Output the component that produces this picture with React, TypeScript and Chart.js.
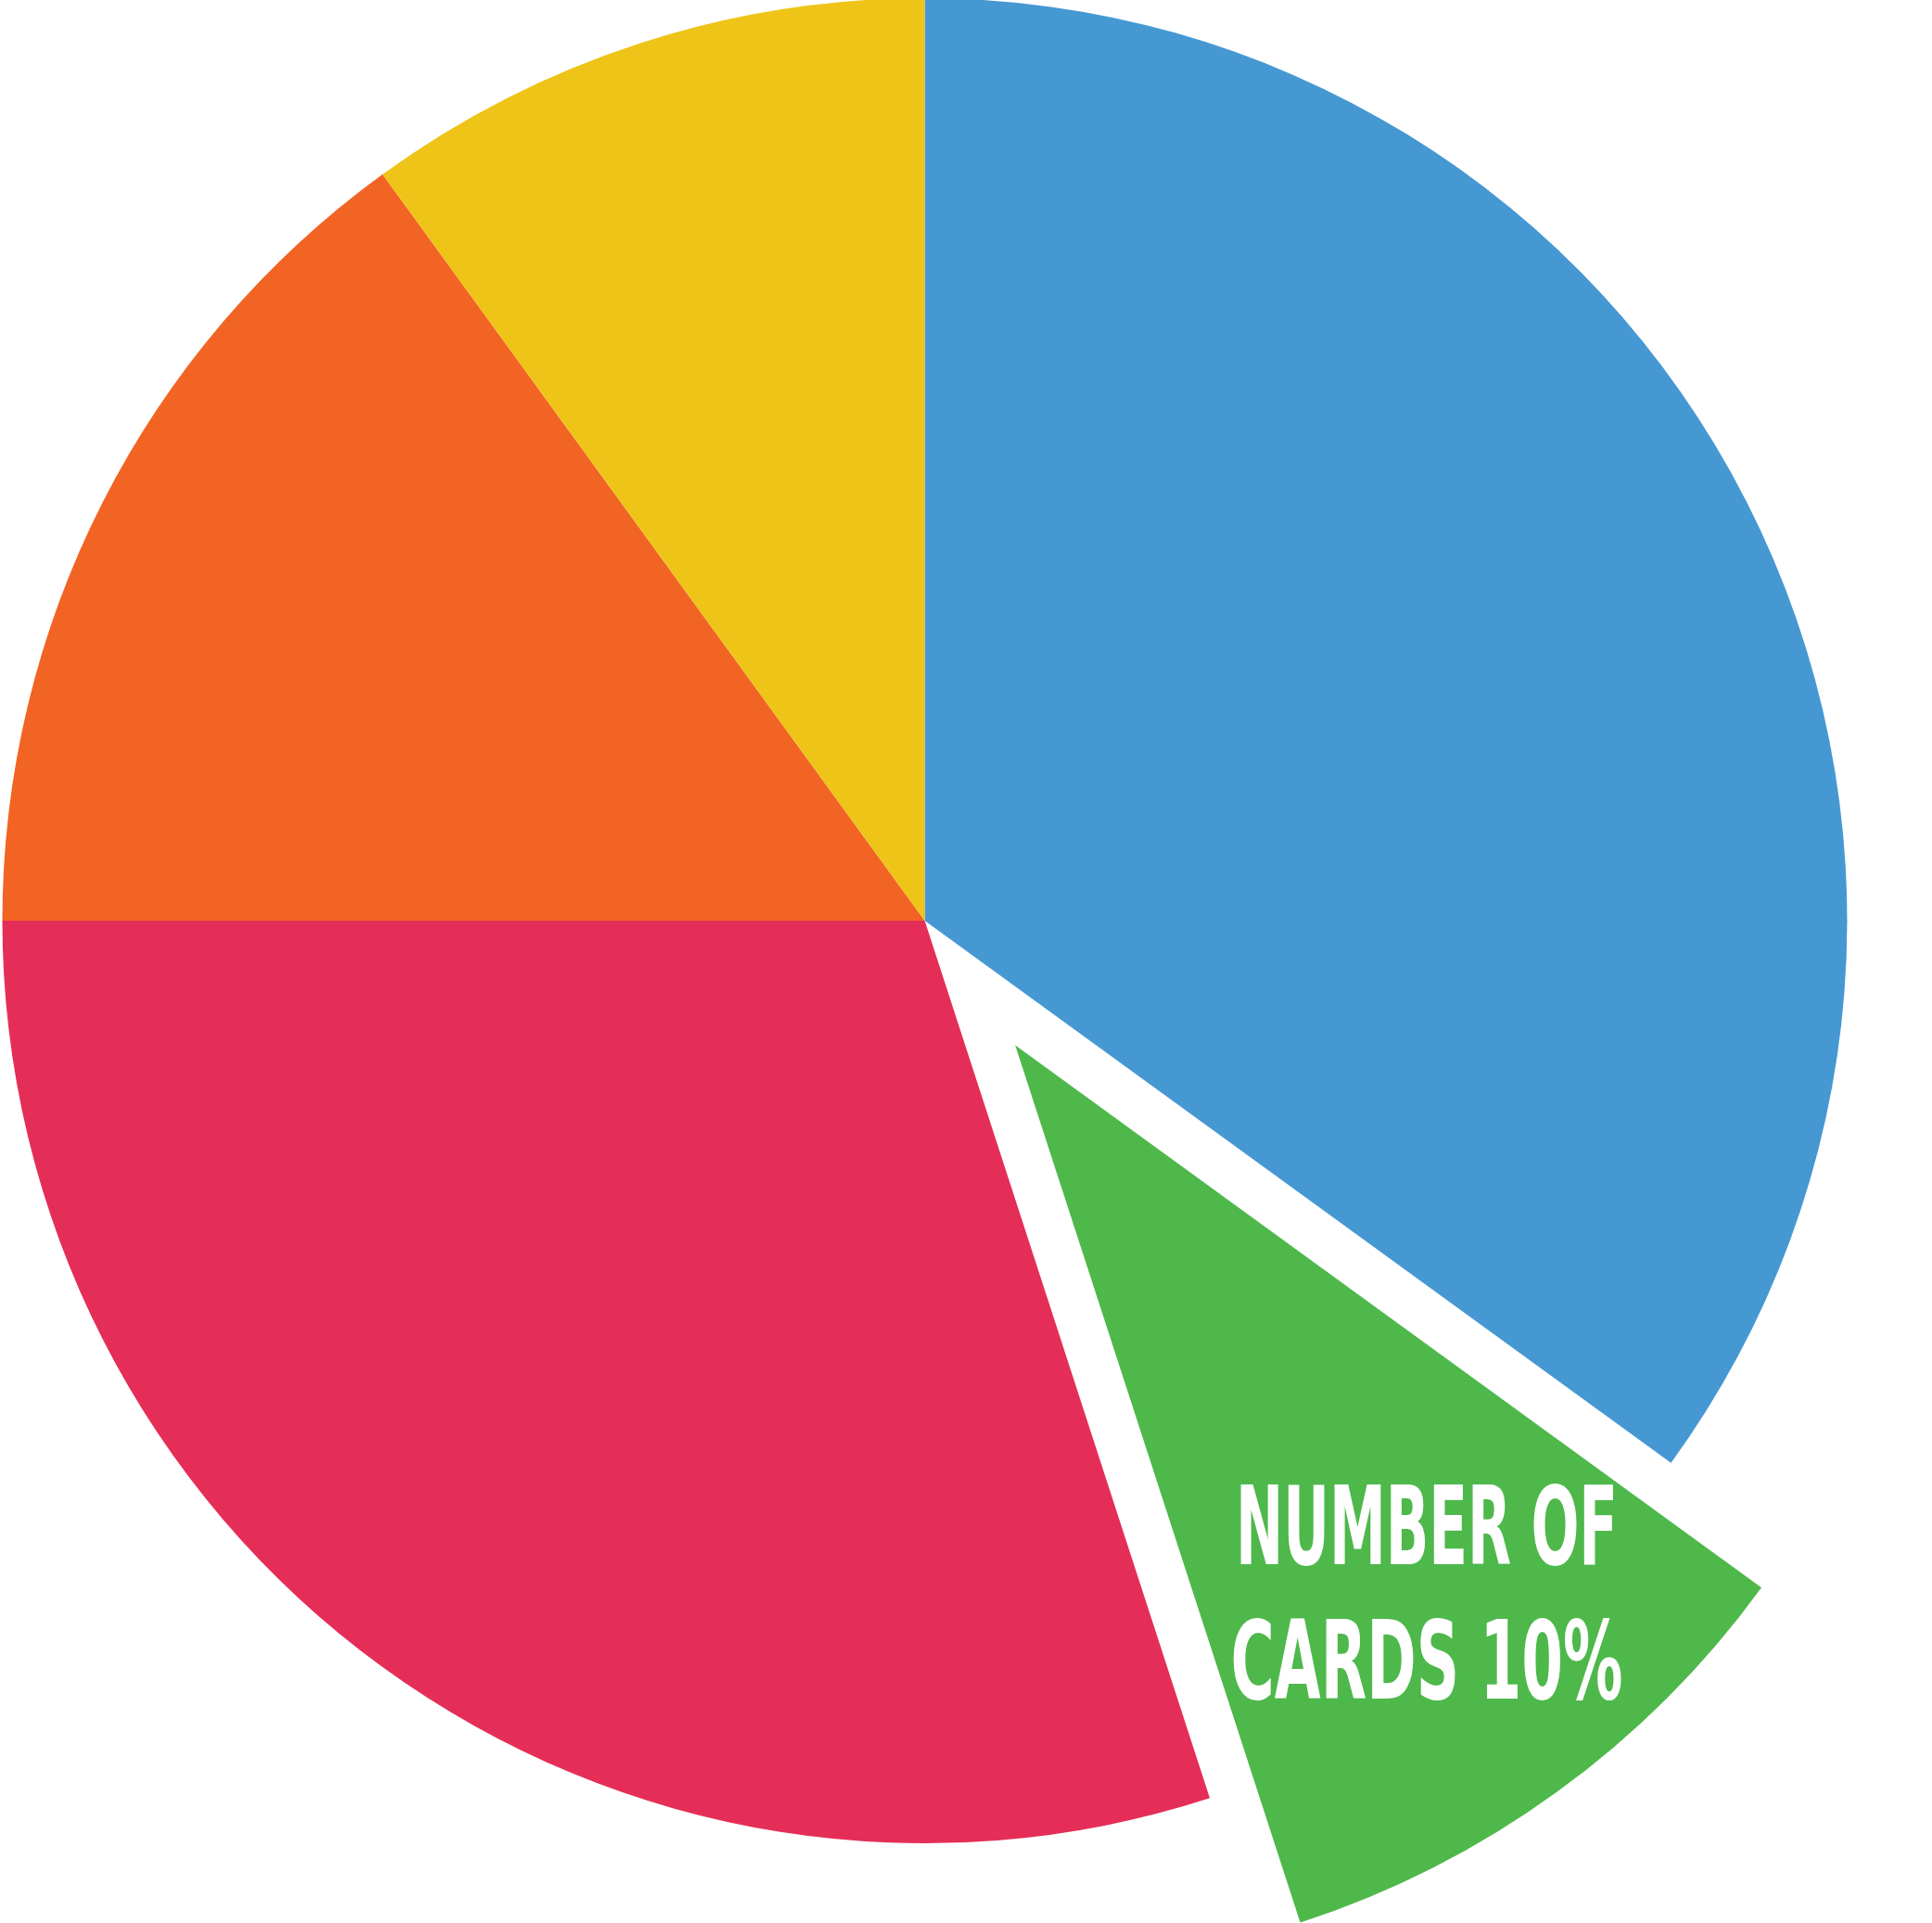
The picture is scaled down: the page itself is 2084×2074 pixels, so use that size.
import React, { useEffect, useRef } from 'react';
import { Chart, registerables } from 'chart.js';

Chart.register(...registerables);

// ---- data ----
const categories = ['Category A', 'Number of cards', 'Category C', 'Category D', 'Category E'];
const values = [35, 10, 30, 15, 10];
const colors = ['#4698D3', '#4EB84B', '#E52E57', '#F26424', '#EEC418'];
const offsets = [0, 664, 0, 0, 0];
const labelIndex = 1;
const labelLines = ['NUMBER OF', 'CARDS 10%'];

// ---- layout/style constants ----
const W = 2084;
const H = 2074;
const RADIUS = 995;
const AREA_W = 1995;
const AREA_H = 1986;
const LABEL_FONT = 'bold 117px "Liberation Sans Narrow", "DejaVu Sans Condensed", "Liberation Sans", sans-serif';
const LABEL_WIDTHS = [412, 423];
const LABEL_BASELINE_SHIFT = [-30, 115];

// Keep exploded slices at the same radius and angular width as the rest
// (Chart.js enlarges and narrows offset arcs slightly).
const offsetFix = {
  id: 'offsetFix',
  afterDatasetsUpdate(chart: any) {
    const meta = chart.getDatasetMeta(0);
    meta.data.forEach((arc: any, i: number) => {
      const off = (offsets[i] || 0) / 4;
      if (!off) return;
      const circ = arc.circumference;
      const fix = 1 - Math.sin(Math.min(Math.PI, circ));
      const ro = off * fix;
      arc.outerRadius = RADIUS - ro;
      const d = ro / (2 * Math.PI * RADIUS);
      arc.startAngle = arc.startAngle - d;
      arc.endAngle = arc.endAngle + d;
    });
  },
};

const sliceLabel = {
  id: 'sliceLabel',
  afterDatasetsDraw(chart: any) {
    const meta = chart.getDatasetMeta(0);
    const arc = meta.data[labelIndex];
    if (!arc) return;
    const ctx = chart.ctx;
    const mid = (arc.startAngle + arc.endAngle) / 2;
    const shift = offsets[labelIndex] / 4;
    const ang = mid - 0.017;
    const r = 0.742 * RADIUS;
    const cx = arc.x + Math.cos(mid) * shift + Math.cos(ang) * r;
    const cy = arc.y + Math.sin(mid) * shift + Math.sin(ang) * r;
    ctx.save();
    ctx.font = LABEL_FONT;
    ctx.fillStyle = '#ffffff';
    ctx.textAlign = 'center';
    ctx.textBaseline = 'alphabetic';
    labelLines.forEach((line, i) => {
      const w = ctx.measureText(line).width;
      const sx = LABEL_WIDTHS[i] / w;
      ctx.save();
      ctx.translate(cx, cy + LABEL_BASELINE_SHIFT[i]);
      ctx.scale(sx, 1);
      ctx.fillText(line, 0, 0);
      ctx.restore();
    });
    ctx.restore();
  },
};

export default function App() {
  const ref = useRef<HTMLCanvasElement | null>(null);

  useEffect(() => {
    if (!ref.current) return;
    const chart = new Chart(ref.current, {
      type: 'pie',
      data: {
        labels: categories,
        datasets: [
          {
            data: values,
            backgroundColor: colors,
            borderWidth: 0,
            offset: offsets,
            clip: false as any,
          } as any,
        ],
      },
      options: {
        responsive: false,
        maintainAspectRatio: false,
        animation: false,
        radius: RADIUS,
        layout: {
          padding: { left: 0, top: 0, right: W - AREA_W, bottom: H - AREA_H },
        },
        plugins: {
          legend: { display: false },
          tooltip: { enabled: false },
        },
      } as any,
      plugins: [offsetFix, sliceLabel],
    });
    return () => chart.destroy();
  }, []);

  return (
    <div style={{ position: 'absolute', left: 0, top: 0, width: W, height: H, background: '#ffffff' }}>
      <canvas ref={ref} width={W} height={H} style={{ width: W, height: H, display: 'block' }} />
    </div>
  );
}
